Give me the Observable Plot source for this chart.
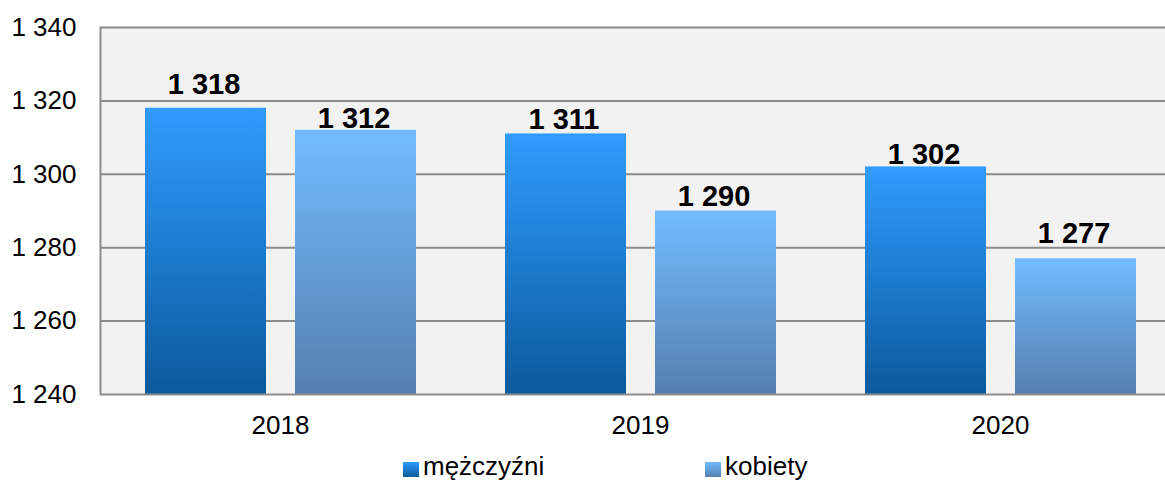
<!DOCTYPE html>
<html>
<head>
<meta charset="utf-8">
<script src="https://cdn.jsdelivr.net/npm/d3@7"></script>
<script src="https://cdn.jsdelivr.net/npm/@observablehq/plot@0.6"></script>
<style>
  html, body { margin: 0; padding: 0; background: #fff; overflow: hidden; }
  #wrap { position: relative; width: 1165px; height: 482px; overflow: hidden; font-family: "Liberation Sans", Arial, sans-serif; }
  #chart svg { max-width: none !important; }
  #legend { position: absolute; top: 451px; left: 0; width: 1165px; height: 30px; font-size: 26px; line-height: 30px; color: #000; }
  .item { position: absolute; top: 0; display: flex; align-items: center; height: 30px; }
  .sw { width: 16px; height: 15px; margin-right: 4px; position: relative; top: 3px; }
</style>
</head>
<body>
<div id="wrap"><div id="chart"></div><div id="legend"></div></div>
<script>
const years = ["2018", "2019", "2020"];
const seriesNames = ["mężczyźni", "kobiety"];
const men = [1318, 1311, 1302];
const women = [1312, 1290, 1277];
const yTicks = [1240, 1260, 1280, 1300, 1320, 1340];
// gap in px between each value label's baseline and its bar top (as placed in the source)
const menLabelGap = [14, 5, 3];
const womenLabelGap = [2, 5, 16];

const table = [];
years.forEach((y, i) => {
  table.push({year: y, series: seriesNames[0], value: men[i], gap: menLabelGap[i]});
  table.push({year: y, series: seriesNames[1], value: women[i], gap: womenLabelGap[i]});
});
const fmt = v => d3.format(",")(v).replace(/,/g, " ");

const gradId = {"mężczyźni": "gm", "kobiety": "gk"};
const band = 360, barW = 121, outerL = 45, gap = 29;
const insets = {
  "mężczyźni": {l: outerL, r: band - outerL - barW},
  "kobiety": {l: outerL + barW + gap, r: band - outerL - 2 * barW - gap}
};
const dxOf = s => (insets[s].l + barW / 2) - band / 2 - 2;

const marks = [
  Plot.frame({fill: "#F2F2F2", stroke: "none"}),
  Plot.gridY(yTicks.slice(1, -1), {stroke: "#8c8c8c", strokeOpacity: 1, strokeWidth: 2}),
];
seriesNames.forEach(s => {
  const d = table.filter(r => r.series === s);
  marks.push(Plot.barY(d, {x: "year", y1: yTicks[0], y2: "value", fill: `url(#${gradId[s]})`,
    insetLeft: insets[s].l, insetRight: insets[s].r}));
});
marks.push(Plot.frame({stroke: "#8c8c8c", strokeWidth: 2, fill: "none"}));
table.forEach(r => {
  marks.push(Plot.text([r], {x: "year", y: "value", text: d => fmt(d.value), dx: dxOf(r.series), dy: -r.gap,
    lineAnchor: "bottom", fontSize: 29, fontWeight: "bold", fill: "#000"}));
});
marks.push(Plot.axisY({ticks: yTicks, tickSize: 0, tickPadding: 24, tickFormat: fmt, fontSize: 26, fill: "#000"}));
marks.push(Plot.axisX({tickSize: 0, tickPadding: 21, fontSize: 26, fill: "#000"}));

const plot = Plot.plot({
  width: 1180, height: 445,
  marginLeft: 100, marginRight: 0, marginTop: 27, marginBottom: 51,
  style: {fontFamily: "'Liberation Sans', Arial, sans-serif", background: "transparent", overflow: "visible", maxWidth: "none"},
  x: {domain: years, padding: 0, label: null},
  y: {domain: [yTicks[0], yTicks[yTicks.length - 1]], label: null},
  marks
});
plot.style.maxWidth = "none";

const svg = d3.select(plot);
const defs = svg.insert("defs", ":first-child");
function grad(id, top, bottom) {
  const g = defs.append("linearGradient").attr("id", id).attr("x1", 0).attr("y1", 0).attr("x2", 0).attr("y2", 1);
  g.append("stop").attr("offset", "0%").attr("stop-color", top);
  g.append("stop").attr("offset", "100%").attr("stop-color", bottom);
}
grad("gm", "#2F9CFF", "#0A5A9C");
grad("gk", "#72BCFF", "#5580AF");
const f = defs.append("filter").attr("id", "sh").attr("x", "-20%").attr("y", "-20%").attr("width", "150%").attr("height", "150%");
f.append("feDropShadow").attr("dx", 3).attr("dy", 2).attr("stdDeviation", 3).attr("flood-color", "#000").attr("flood-opacity", 0.3);
svg.selectAll("rect").filter(function() { return (this.getAttribute("fill") || "").startsWith("url"); }).attr("filter", "url(#sh)");

document.getElementById("chart").appendChild(plot);

const legend = document.getElementById("legend");
const legPos = {"mężczyźni": 403, "kobiety": 705};
const legGrad = {"mężczyźni": "linear-gradient(#2F9CFF, #0A5A9C)", "kobiety": "linear-gradient(#72BCFF, #5580AF)"};
seriesNames.forEach(s => {
  const it = document.createElement("div");
  it.className = "item";
  it.style.left = legPos[s] + "px";
  const sw = document.createElement("span");
  sw.className = "sw";
  sw.style.background = legGrad[s];
  const t = document.createElement("span");
  t.textContent = s;
  it.appendChild(sw); it.appendChild(t);
  legend.appendChild(it);
});
</script>
</body>
</html>
